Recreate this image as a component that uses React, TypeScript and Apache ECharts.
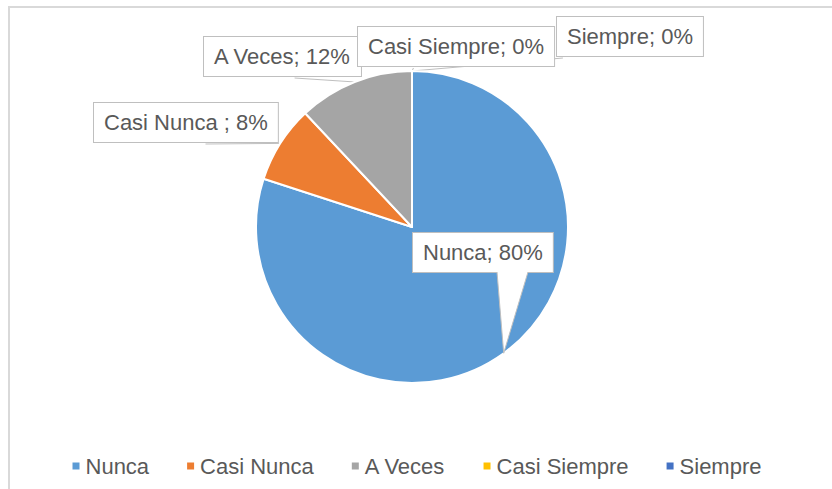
import React, { useEffect, useRef } from "react";
import * as echarts from "echarts";

const categories = ["Nunca", "Casi Nunca", "A Veces", "Casi Siempre", "Siempre"];
const labelNames = ["Nunca", "Casi Nunca ", "A Veces", "Casi Siempre", "Siempre"];
const values = [80, 8, 12, 0, 0];
const colors = ["#5B9BD5", "#ED7D31", "#A5A5A5", "#FFC000", "#4472C4"];

// label box top-left positions (layout only)
const labelPos: [number, number][] = [
  [413, 233],
  [94, 103],
  [204, 37],
  [358, 27],
  [557, 17],
];
// where each leader line meets its label box (fraction of box width / height)
const lineAnchor: [number, number][] = [
  [0.5, 1],
  [0.6, 1],
  [0.57, 1],
  [0.28, 1],
  [0.04, 1],
];

const CENTER: [number, number] = [412, 227];
const RADIUS = 156;

export default function App() {
  const ref = useRef<HTMLDivElement>(null);
  useEffect(() => {
    if (!ref.current) return;
    const chart = echarts.init(ref.current, undefined, { renderer: "svg" });
    const total = values.reduce((a, b) => a + b, 0);
    const midAngles: number[] = [];
    let acc = 0;
    values.forEach((v) => {
      const mid = 90 - ((acc + v / 2) / total) * 360;
      midAngles.push((mid * Math.PI) / 180);
      acc += v;
    });
    const edge = (i: number): [number, number] => [
      CENTER[0] + RADIUS * Math.cos(midAngles[i]),
      CENTER[1] - RADIUS * Math.sin(midAngles[i]),
    ];
    // pointer for the first (callout) label, computed from the data
    const tip = edge(0);
    const baseY = labelPos[0][1] + 39;
    const baseL: [number, number] = [labelPos[0][0] + 84, baseY];
    const baseR: [number, number] = [labelPos[0][0] + 115, baseY];

    chart.setOption({
      animation: false,
      backgroundColor: "#ffffff",
      legend: {
        data: categories,
        left: "center",
        top: 450,
        icon: "rect",
        itemWidth: 9,
        itemHeight: 9,
        itemGap: 36,
        textStyle: { fontFamily: "Liberation Sans", fontSize: 22, color: "#595959" },
      },
      graphic: [
        {
          type: "rect",
          shape: { x: 9, y: 7, width: 900, height: 600 },
          style: { fill: "none", stroke: "#d9d9d9", lineWidth: 2 },
          silent: true,
          z: 0,
        },
        {
          type: "polygon",
          shape: { points: [baseL, tip, baseR] },
          style: { fill: "#ffffff", stroke: "none" },
          z: 100,
        },
        {
          type: "polyline",
          shape: { points: [baseL, tip, baseR] },
          style: { fill: "none", stroke: "#bfbfbf", lineWidth: 1 },
          z: 101,
        },
      ],
      series: [
        {
          type: "pie",
          center: CENTER,
          radius: RADIUS,
          startAngle: 90,
          clockwise: true,
          avoidLabelOverlap: false,
          itemStyle: { borderColor: "#ffffff", borderWidth: 2 },
          label: {
            show: true,
            formatter: (p: any) =>
              `${labelNames[p.dataIndex]}; ${Math.round((p.value / total) * 100)}%`,
            fontFamily: "Liberation Sans",
            fontSize: 22,
            lineHeight: 23,
            color: "#595959",
            backgroundColor: "#ffffff",
            borderColor: "#bfbfbf",
            borderWidth: 1,
            padding: [8, 10, 8, 10],
          },
          labelLine: {
            show: true,
            lineStyle: { color: "#bfbfbf", width: 1 },
          },
          labelLayout: (params: any) => {
            const i = params.dataIndex;
            const w = params.labelRect ? params.labelRect.width : 150;
            const h = params.labelRect ? params.labelRect.height : 39;
            const anchor: [number, number] = [
              labelPos[i][0] + w * lineAnchor[i][0],
              labelPos[i][1] + h * lineAnchor[i][1],
            ];
            return {
              x: labelPos[i][0],
              y: labelPos[i][1],
              align: "left",
              verticalAlign: "top",
              labelLinePoints: [edge(i), anchor],
            };
          },
          emphasis: { disabled: true },
          data: categories.map((name, i) => ({
            name,
            value: values[i],
            itemStyle: { color: colors[i] },
            labelLine: i === 0 ? { show: false } : undefined,
          })),
        },
      ],
    });
    return () => chart.dispose();
  }, []);
  return (
    <div
      ref={ref}
      style={{ position: "absolute", left: 0, top: 0, width: 832, height: 489 }}
    />
  );
}
